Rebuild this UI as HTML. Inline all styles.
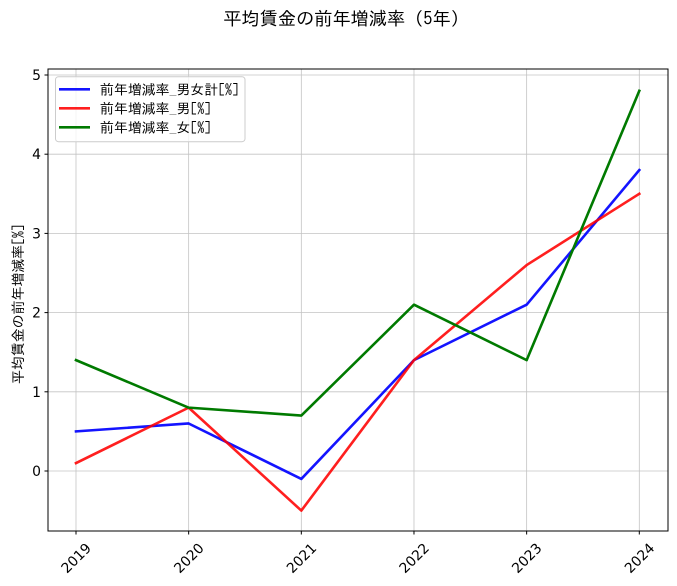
<!DOCTYPE html>
<html><head><meta charset="utf-8">
<style>
html,body{margin:0;padding:0;background:#fff;}
svg{display:block;}
.t{font-family:"DejaVu Sans","Liberation Sans",sans-serif;font-size:13.9px;fill:#000;}
.j{font-family:"IPAGothic","Noto Sans CJK JP",sans-serif;fill:#000;}
</style></head>
<body>
<svg width="677" height="586" viewBox="0 0 677 586" xmlns="http://www.w3.org/2000/svg">
<rect width="677" height="586" fill="#fff"/>
<text class="j" x="346" y="25" font-size="18.2" text-anchor="middle">平均賃金の前年増減率（5年）</text>
<g stroke="#b0b0b0" stroke-width="0.8" opacity="0.75">
<line x1="76" y1="69" x2="76" y2="531"/>
<line x1="188.66" y1="69" x2="188.66" y2="531"/>
<line x1="301.32" y1="69" x2="301.32" y2="531"/>
<line x1="413.98" y1="69" x2="413.98" y2="531"/>
<line x1="526.64" y1="69" x2="526.64" y2="531"/>
<line x1="639.3" y1="69" x2="639.3" y2="531"/>
<line x1="48" y1="471" x2="668" y2="471"/>
<line x1="48" y1="391.8" x2="668" y2="391.8"/>
<line x1="48" y1="312.6" x2="668" y2="312.6"/>
<line x1="48" y1="233.4" x2="668" y2="233.4"/>
<line x1="48" y1="154.2" x2="668" y2="154.2"/>
<line x1="48" y1="75" x2="668" y2="75"/>
</g>
<g fill="none" stroke-width="2.6" stroke-linejoin="round" stroke-linecap="square">
<polyline stroke="#0000ff" stroke-opacity="0.92" points="76,431.4 188.66,423.48 301.32,478.92 413.98,360.12 526.64,304.68 639.3,170.04"/>
<polyline stroke="#ff0000" stroke-opacity="0.88" points="76,463.08 188.66,407.64 301.32,510.6 413.98,360.12 526.64,265.08 639.3,193.8"/>
<polyline stroke="#007a00" points="76,360.12 188.66,407.64 301.32,415.56 413.98,304.68 526.64,360.12 639.3,90.84"/>
</g>
<rect x="48" y="69" width="620" height="462" fill="none" stroke="#000" stroke-width="1"/>
<g stroke="#000" stroke-width="1">
<line x1="76" y1="531" x2="76" y2="534.5"/>
<line x1="188.66" y1="531" x2="188.66" y2="534.5"/>
<line x1="301.32" y1="531" x2="301.32" y2="534.5"/>
<line x1="413.98" y1="531" x2="413.98" y2="534.5"/>
<line x1="526.64" y1="531" x2="526.64" y2="534.5"/>
<line x1="639.3" y1="531" x2="639.3" y2="534.5"/>
<line x1="44.5" y1="471" x2="48" y2="471"/>
<line x1="44.5" y1="391.8" x2="48" y2="391.8"/>
<line x1="44.5" y1="312.6" x2="48" y2="312.6"/>
<line x1="44.5" y1="233.4" x2="48" y2="233.4"/>
<line x1="44.5" y1="154.2" x2="48" y2="154.2"/>
<line x1="44.5" y1="75" x2="48" y2="75"/>
</g>
<g class="t" text-anchor="end">
<text x="41" y="476">0</text>
<text x="41" y="396.8">1</text>
<text x="41" y="317.6">2</text>
<text x="41" y="238.4">3</text>
<text x="41" y="159.2">4</text>
<text x="41" y="80">5</text>
</g>
<g class="t" text-anchor="middle">
<text transform="translate(76,558) rotate(-45)" y="5">2019</text>
<text transform="translate(188.66,558) rotate(-45)" y="5">2020</text>
<text transform="translate(301.32,558) rotate(-45)" y="5">2021</text>
<text transform="translate(413.98,558) rotate(-45)" y="5">2022</text>
<text transform="translate(526.64,558) rotate(-45)" y="5">2023</text>
<text transform="translate(639.3,558) rotate(-45)" y="5">2024</text>
</g>
<text class="j" font-size="13.9" text-anchor="middle" transform="translate(23,304) rotate(-90)">平均賃金の前年増減率[%]</text>
<rect x="55.5" y="76.7" width="189.5" height="65" rx="3" ry="3" fill="#fff" fill-opacity="0.8" stroke="#cccccc" stroke-width="1"/>
<g stroke-width="2.6">
<line x1="59" y1="89.3" x2="90" y2="89.3" stroke="#0000ff" stroke-opacity="0.92"/>
<line x1="59" y1="108.3" x2="90" y2="108.3" stroke="#ff0000" stroke-opacity="0.88"/>
<line x1="59" y1="127.3" x2="90" y2="127.3" stroke="#007a00"/>
</g>
<g class="j" font-size="13.9">
<text x="100" y="94.3">前年増減率_男女計[%]</text>
<text x="100" y="113.3">前年増減率_男[%]</text>
<text x="100" y="132.3">前年増減率_女[%]</text>
</g>
</svg>
</body></html>
